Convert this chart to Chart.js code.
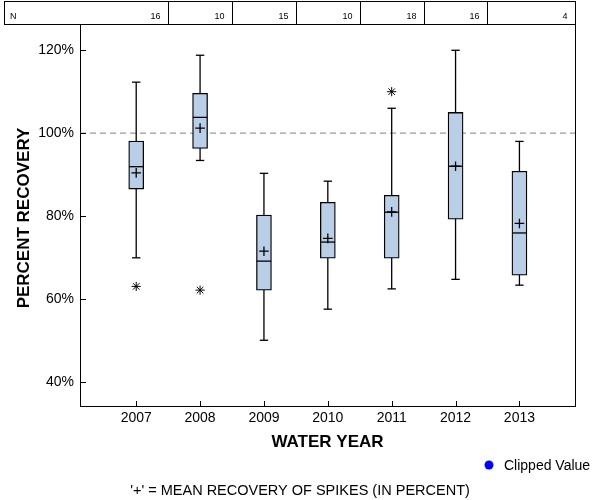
<!DOCTYPE html>
<html><head><meta charset="utf-8">
<script src="https://cdn.jsdelivr.net/npm/chart.js@4/dist/chart.umd.min.js"></script>
<style>html,body{margin:0;padding:0;background:#fff}</style>
</head><body>
<canvas id="c" width="600" height="500"></canvas>
<script>
// ---- data ----
const years = [2007, 2008, 2009, 2010, 2011, 2012, 2013];
const sampleCounts = [16, 10, 15, 10, 18, 16, 4];
const whiskerLow  = [69.9, 93.4, 50.0, 57.5, 62.4, 64.7, 63.3];
const quartile1   = [86.5, 96.3, 62.1, 69.8, 69.8, 79.2, 65.7];
const medians     = [91.9, 103.8, 69.1, 73.7, 80.9, 92.0, 75.9];
const quartile3   = [98.1, 109.6, 80.2, 83.3, 85.0, 105.0, 90.8];
const whiskerHigh = [112.3, 118.8, 90.3, 88.4, 106.0, 120.0, 98.0];
const means       = [90.4, 101.2, 71.5, 74.6, 81.0, 92.0, 78.2];
const outlierYears  = [2007, 2008, 2011];
const outlierValues = [63.0, 62.1, 110.0];
const yTickValues = [40, 60, 80, 100, 120];
const referenceValue = 100;
const xRange = [2006.12, 2013.87];
const yRange = [34.13, 126.1];

const FONT = '"Liberation Sans", Arial, Helvetica, sans-serif';
Chart.defaults.font.family = FONT;
Chart.defaults.color = '#000';

const whiskerData = [];
years.forEach((yr, i) => {
  whiskerData.push({x: yr, y: whiskerLow[i]}, {x: yr, y: whiskerHigh[i]}, {x: yr, y: null});
});

const decor = {
  id: 'decor',
  afterDraw(chart) {
    const {ctx, chartArea: a, scales: {x, y}} = chart;
    ctx.save();
    ctx.strokeStyle = '#000';
    ctx.fillStyle = '#000';
    ctx.lineWidth = 1;
    // right axis line
    ctx.beginPath();
    ctx.moveTo(a.right + 0.5, a.top);
    ctx.lineTo(a.right + 0.5, a.bottom + 1);
    ctx.stroke();
    // inward tick marks
    ctx.beginPath();
    yTickValues.forEach(v => {
      const py = Math.round(y.getPixelForValue(v)) + 0.5;
      ctx.moveTo(a.left, py); ctx.lineTo(a.left + 6, py);
    });
    years.forEach(v => {
      const px = Math.round(x.getPixelForValue(v)) + 0.5;
      ctx.moveTo(px, a.bottom); ctx.lineTo(px, a.bottom - 5);
    });
    ctx.stroke();
    // N table
    const tTop = 1.5, tBot = a.top - 0.5, tLeft = 4.5, tRight = a.right + 0.5;
    ctx.strokeRect(tLeft, tTop, tRight - tLeft, tBot - tTop);
    const edges = years.map((v, i) => i < years.length - 1 ? Math.round(x.getPixelForValue(v + 0.5)) + 0.5 : tRight);
    ctx.beginPath();
    edges.slice(0, -1).forEach(e => { ctx.moveTo(e, tTop); ctx.lineTo(e, tBot); });
    ctx.stroke();
    ctx.font = '9px ' + FONT;
    ctx.textBaseline = 'alphabetic';
    ctx.textAlign = 'left';
    ctx.fillText('N', 10, 18.5);
    ctx.textAlign = 'right';
    sampleCounts.forEach((n, i) => ctx.fillText(String(n), edges[i] - 8, 18.5));
    // axis titles
    ctx.font = 'bold 17px ' + FONT;
    ctx.textAlign = 'center';
    ctx.textBaseline = 'middle';
    ctx.fillText('WATER YEAR', (a.left + a.right) / 2, 442);
    ctx.save();
    ctx.translate(24, 218);
    ctx.rotate(-Math.PI / 2);
    ctx.fillText('PERCENT RECOVERY', 0, 0);
    ctx.restore();
    // legend
    ctx.beginPath();
    ctx.fillStyle = '#0000ff';
    ctx.arc(489, 465, 4.5, 0, Math.PI * 2);
    ctx.fill();
    ctx.fillStyle = '#000';
    ctx.font = '14px ' + FONT;
    ctx.textAlign = 'left';
    ctx.fillText('Clipped Value', 504, 466);
    // footnote
    ctx.font = '14.5px ' + FONT;
    ctx.textAlign = 'center';
    ctx.fillText("'+' = MEAN RECOVERY OF SPIKES (IN PERCENT)", 300, 491);
    ctx.restore();
  }
};

new Chart(document.getElementById('c'), {
  type: 'bar',
  data: {
    datasets: [
      {
        type: 'line', label: 'reference',
        data: [{x: xRange[0], y: referenceValue}, {x: xRange[1], y: referenceValue}],
        borderColor: '#808080', borderWidth: 1, borderDash: [6, 4],
        pointRadius: 0, order: 10
      },
      {
        type: 'line', label: 'whiskers', data: whiskerData,
        borderColor: '#000', borderWidth: 1.3, spanGaps: false,
        pointStyle: 'line', pointRadius: 4.2, pointBorderWidth: 1.3,
        pointBorderColor: '#000', pointBackgroundColor: '#000', order: 6
      },
      {
        type: 'bar', label: 'box',
        data: years.map((yr, i) => ({x: yr, y: [quartile1[i], quartile3[i]]})),
        backgroundColor: '#b9cfe7', borderColor: '#000', borderWidth: 1.3,
        borderSkipped: false, barThickness: 15, order: 4
      },
      {
        type: 'line', label: 'median', showLine: false,
        data: years.map((yr, i) => ({x: yr, y: medians[i]})),
        pointStyle: 'line', pointRadius: 7.2, pointBorderWidth: 1.3,
        pointBorderColor: '#000', order: 2
      },
      {
        type: 'line', label: 'mean', showLine: false,
        data: years.map((yr, i) => ({x: yr, y: means[i]})),
        pointStyle: 'cross', pointRadius: 4.8, pointBorderWidth: 1.3,
        pointBorderColor: '#000', order: 1
      },
      {
        type: 'line', label: 'outliers', showLine: false,
        data: outlierYears.map((yr, i) => ({x: yr, y: outlierValues[i]})),
        pointStyle: 'star', pointRadius: 4.6, pointBorderWidth: 1,
        pointBorderColor: '#000', order: 1
      }
    ]
  },
  options: {
    responsive: false,
    animation: false,
    events: [],
    layout: {padding: {top: 25, right: 25, left: 0, bottom: 0}},
    plugins: {legend: {display: false}, tooltip: {enabled: false}},
    scales: {
      x: {
        type: 'linear', min: xRange[0], max: xRange[1], offset: false,
        grid: {display: false, drawTicks: false},
        border: {display: true, color: '#000', width: 1},
        afterBuildTicks: s => { s.ticks = years.map(v => ({value: v})); },
        afterFit: s => { s.height = 94; },
        ticks: {font: {size: 14}, padding: 4, maxRotation: 0, autoSkip: false, color: '#000',
                callback: v => String(v)}
      },
      y: {
        type: 'linear', min: yRange[0], max: yRange[1],
        grid: {display: false, drawTicks: false},
        border: {display: true, color: '#000', width: 1},
        afterBuildTicks: s => { s.ticks = yTickValues.map(v => ({value: v})); },
        afterFit: s => { s.width = 80; },
        ticks: {font: {size: 14}, padding: 6, color: '#000', callback: v => v + '%'}
      }
    }
  },
  plugins: [decor]
});
</script>
</body></html>
